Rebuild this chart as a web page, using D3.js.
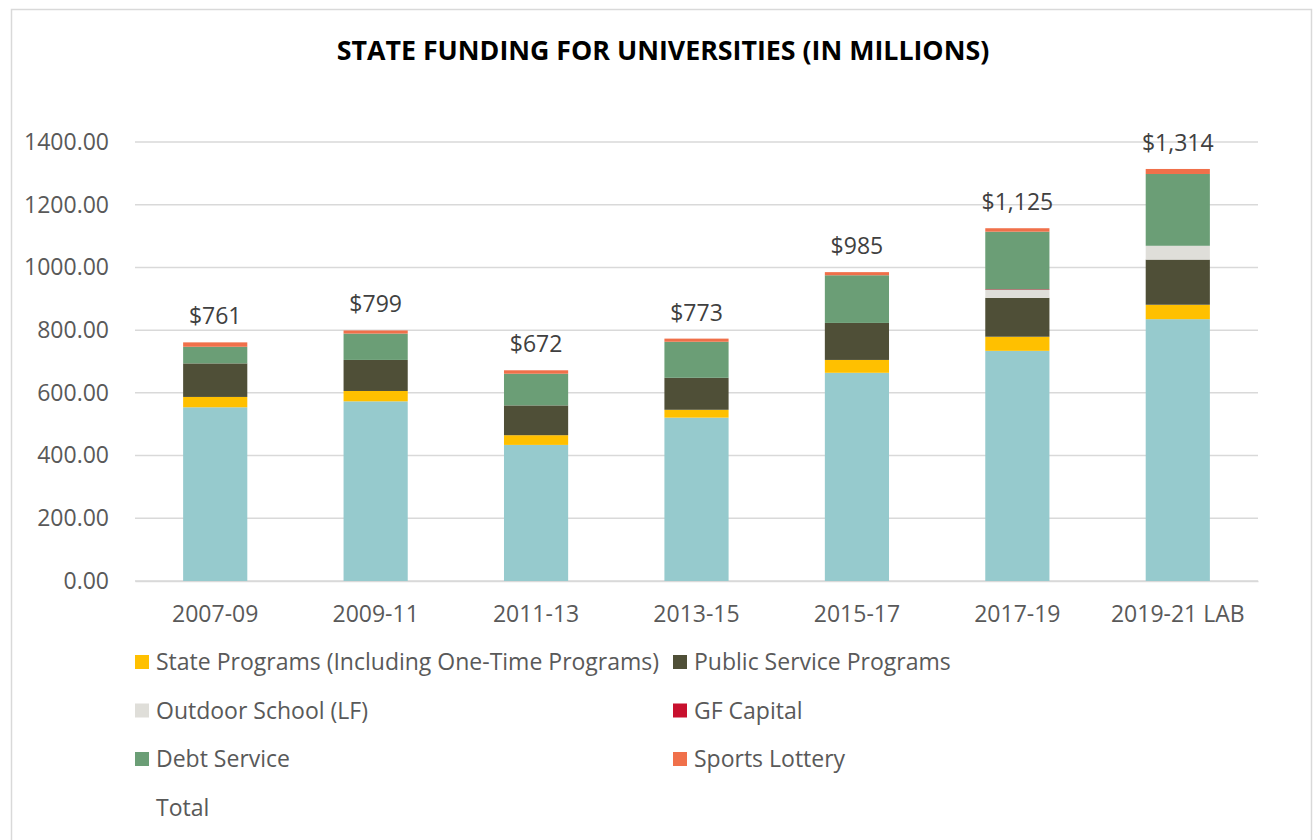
<!DOCTYPE html>
<html><head><meta charset="utf-8">
<script src="https://cdn.jsdelivr.net/npm/d3@7"></script>
<style>body{margin:0;background:#fff;} text{font-family:"Open Sans","Noto Sans",sans-serif;}</style>
</head><body>
<svg id="c" width="1314" height="840"></svg>
<script>
const categories = ["2007-09","2009-11","2011-13","2013-15","2015-17","2017-19","2019-21 LAB"];
const baseSupport    = [554, 573, 434, 521, 664, 734, 835];
const statePrograms  = [33, 33, 31, 25, 41, 45, 46];
const publicService  = [107, 99, 95, 102, 118, 124, 144];
const outdoorSchool  = [0, 0, 0, 0, 0, 25, 44];
const gfCapital      = [0, 0, 0, 0, 0, 2, 0];
const debtService    = [53, 84, 101, 115, 152, 184, 229];
const sportsLottery  = [14, 10, 11, 10, 10, 11, 16];
const totals         = [761, 799, 672, 773, 985, 1125, 1314];
const yTicks = [0, 200, 400, 600, 800, 1000, 1200, 1400];

const series = [
  {key:"base", name:null, values:baseSupport, color:"#96CACD"},
  {key:"sp", name:"State Programs (Including One-Time Programs)", values:statePrograms, color:"#FFC000"},
  {key:"ps", name:"Public Service Programs", values:publicService, color:"#4F4F37"},
  {key:"os", name:"Outdoor School (LF)", values:outdoorSchool, color:"#DFDED9"},
  {key:"gf", name:"GF Capital", values:gfCapital, color:"#C8102E"},
  {key:"ds", name:"Debt Service", values:debtService, color:"#6B9E76"},
  {key:"sl", name:"Sports Lottery", values:sportsLottery, color:"#F0704A"}
];

const FS = 23;
const svg = d3.select("#c");
svg.append("rect").attr("x",11.5).attr("y",9.5).attr("width",1300).attr("height",840)
  .attr("fill","#fff").attr("stroke","#D9D9D9").attr("stroke-width",1.5);

const title = svg.append("text").attr("x",663).attr("y",60).attr("text-anchor","middle")
  .attr("font-weight","bold").attr("font-size",24).attr("fill","#000")
  .text("STATE FUNDING FOR UNIVERSITIES (IN MILLIONS)");
{ const len = title.node().getComputedTextLength(); title.attr("font-size", 24*653/len); }

const x = d3.scaleBand().domain(categories).range([135,1258]).paddingInner(0.6).paddingOuter(0.3);
const y = d3.scaleLinear().domain([0,1400]).range([581,142]);

// gridlines
svg.append("g").selectAll("line").data(yTicks).join("line")
  .attr("x1",135).attr("x2",1258).attr("y1",d=>y(d)).attr("y2",d=>y(d))
  .attr("stroke","#D9D9D9").attr("stroke-width",1.5);

// y axis
const yAxis = svg.append("g").attr("transform","translate(109,0)")
  .call(d3.axisLeft(y).tickValues(yTicks).tickFormat(d3.format(".2f")).tickSize(0).tickPadding(0));
yAxis.select(".domain").remove();
yAxis.selectAll("text").attr("font-size",FS).attr("fill","#595959").attr("font-family",null);

// x axis
const xAxis = svg.append("g").attr("transform","translate(0,581)")
  .call(d3.axisBottom(x).tickSize(0).tickPadding(25));
xAxis.select(".domain").attr("stroke","#D9D9D9").attr("stroke-width",1.5);
xAxis.selectAll("text").attr("font-size",FS).attr("fill","#595959").attr("font-family",null);

// stack
const rows = categories.map((c,i)=>{const o={cat:c}; series.forEach(s=>o[s.key]=s.values[i]); return o;});
const stack = d3.stack().keys(series.map(s=>s.key))(rows);
const colorOf = Object.fromEntries(series.map(s=>[s.key,s.color]));
svg.append("g").selectAll("g").data(stack).join("g").attr("fill",d=>colorOf[d.key])
  .selectAll("rect").data(d=>d).join("rect")
  .attr("x",d=>x(d.data.cat)).attr("width",x.bandwidth())
  .attr("y",d=>y(d[1])).attr("height",d=>Math.max(0,y(d[0])-y(d[1])));

// total labels
svg.append("g").selectAll("text").data(categories).join("text")
  .attr("x",d=>x(d)+x.bandwidth()/2).attr("y",(d,i)=>y(totals[i])-18)
  .attr("text-anchor","middle").attr("font-size",FS).attr("fill","#404040")
  .text((d,i)=>"$"+d3.format(",")(totals[i]));

// legend
const legendItems = series.filter(s=>s.name).map(s=>({name:s.name,color:s.color}));
legendItems.push({name:"Total",color:null});
const lg = svg.append("g");
legendItems.forEach((it,i)=>{
  const col = i%2, row = Math.floor(i/2);
  const lx = col===0 ? 135 : 673;
  const ly = 662 + row*48.5;
  if(it.color) lg.append("rect").attr("x",lx).attr("y",ly-7).attr("width",14).attr("height",14).attr("fill",it.color);
  lg.append("text").attr("x",lx+21).attr("y",ly+8).attr("font-size",FS).attr("fill","#595959").text(it.name);
});
</script>
</body></html>
